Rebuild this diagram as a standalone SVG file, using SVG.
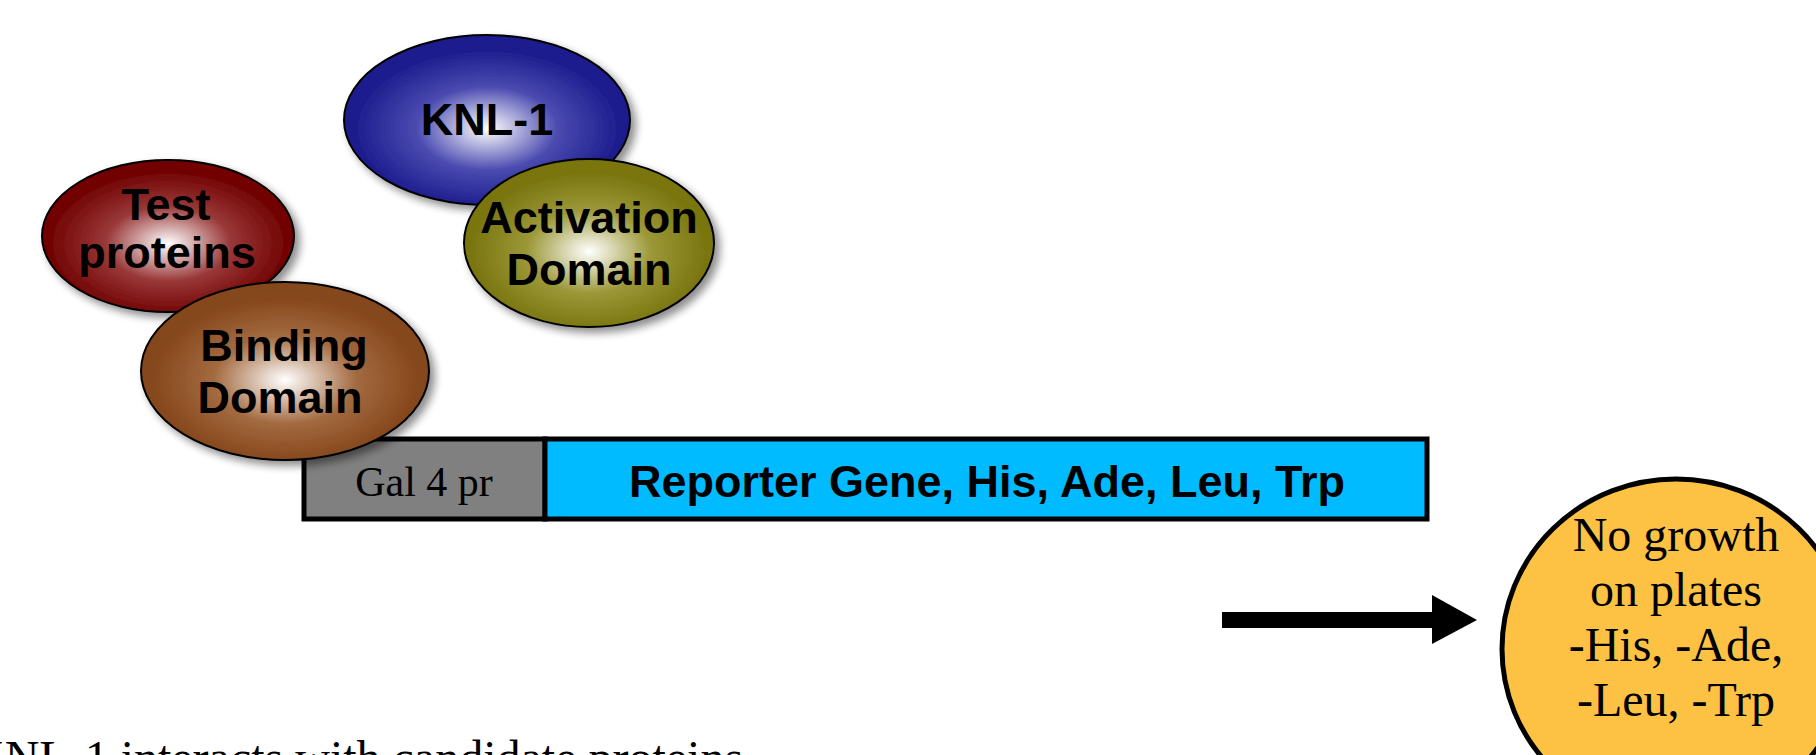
<svg xmlns="http://www.w3.org/2000/svg" width="1816" height="755" viewBox="0 0 1816 755">
<style>
.lbl{font-family:"Liberation Sans",Arial,sans-serif;font-weight:bold;font-size:45px;fill:#000;text-anchor:middle}
.ser{font-family:"Liberation Serif","Times New Roman",serif;fill:#000}
.ell{stroke:#000;stroke-width:2;filter:url(#sh)}
.box{stroke:#000;stroke-width:5}
</style>
<defs>
<filter id="sh" x="-20%" y="-20%" width="150%" height="150%">
<feGaussianBlur in="SourceAlpha" stdDeviation="4"/>
<feOffset dx="5" dy="5" result="b"/>
<feComponentTransfer><feFuncA type="linear" slope="0.45"/></feComponentTransfer>
<feMerge><feMergeNode/><feMergeNode in="SourceGraphic"/></feMerge>
</filter>
<radialGradient id="gBlue" cx="50%" cy="55%" r="55%"><stop offset="0" stop-color="#ffffff"/><stop offset="0.45" stop-color="#4a4ab0"/><stop offset="0.85" stop-color="#1c1c8e"/></radialGradient>
<radialGradient id="gRed" cx="50%" cy="55%" r="55%"><stop offset="0" stop-color="#ffffff"/><stop offset="0.45" stop-color="#993838"/><stop offset="0.85" stop-color="#730404"/></radialGradient>
<radialGradient id="gBrown" cx="50%" cy="55%" r="55%"><stop offset="0" stop-color="#ffffff"/><stop offset="0.45" stop-color="#a36a40"/><stop offset="0.85" stop-color="#85461b"/></radialGradient>
<radialGradient id="gOlive" cx="50%" cy="55%" r="55%"><stop offset="0" stop-color="#ffffff"/><stop offset="0.45" stop-color="#9c9838"/><stop offset="0.85" stop-color="#7a7610"/></radialGradient>
</defs>
<rect width="1816" height="755" fill="#fff"/>

<g id="gal4">
<rect class="box" x="304" y="439" width="241" height="80" fill="#808080"/>
<text class="ser" x="424" y="496" font-size="42" text-anchor="middle">Gal 4 pr</text>
</g>
<g id="reporter">
<rect class="box" x="545" y="439" width="882" height="80" fill="#00bbff"/>
<text class="lbl" x="987" y="497" font-size="46">Reporter Gene, His, Ade, Leu, Trp</text>
</g>

<g id="knl1">
<ellipse class="ell" cx="487" cy="120" rx="143" ry="85" fill="url(#gBlue)"/>
<text class="lbl" x="487" y="135">KNL-1</text>
</g>
<g id="activation">
<ellipse class="ell" cx="589" cy="243" rx="125" ry="84" fill="url(#gOlive)"/>
<text class="lbl" x="589" y="233">Activation</text>
<text class="lbl" x="589" y="285">Domain</text>
</g>
<g id="test">
<ellipse class="ell" cx="168" cy="236" rx="126" ry="76" fill="url(#gRed)"/>
<text class="lbl" x="166" y="220">Test</text>
<text class="lbl" x="167" y="268">proteins</text>
</g>
<g id="binding">
<ellipse class="ell" cx="285" cy="371" rx="144" ry="89" fill="url(#gBrown)"/>
<text class="lbl" x="284" y="361">Binding</text>
<text class="lbl" x="280" y="413">Domain</text>
</g>

<g id="connectors">
<rect x="1222" y="612" width="212" height="16" fill="#000"/>
<polygon points="1432,595 1477,620 1432,644" fill="#000"/>
</g>

<g id="result">
<ellipse cx="1676" cy="649" rx="174" ry="170" fill="#fdc244" stroke="#000" stroke-width="5"/>
<g class="ser" font-size="48" text-anchor="middle">
<text x="1676" y="551">No growth</text>
<text x="1676" y="606">on plates</text>
<text x="1676" y="661">-His, -Ade,</text>
<text x="1676" y="716">-Leu, -Trp</text>
</g>
</g>

<text class="ser" x="-30" y="774" font-size="48">KNL-1 interacts with candidate proteins</text>
</svg>
